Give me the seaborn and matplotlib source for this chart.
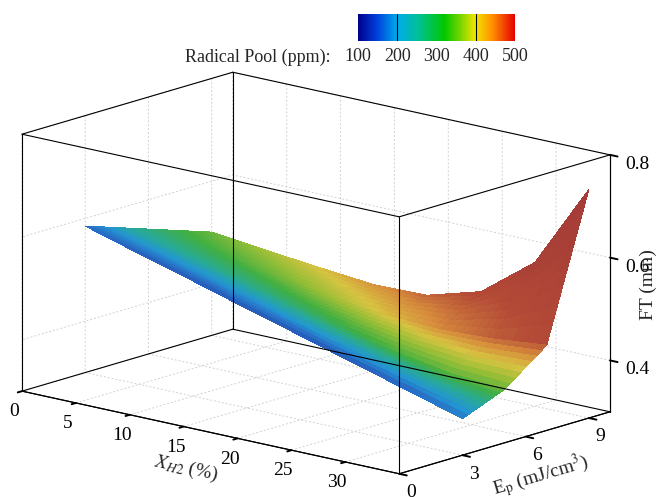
import itertools
import numpy as np
import matplotlib
matplotlib.use("Agg")
import matplotlib.pyplot as plt
import seaborn as sns
from matplotlib.colors import LinearSegmentedColormap, Normalize
from matplotlib.cm import ScalarMappable
from mpl_toolkits.mplot3d import proj3d

# grid of the surface: hydrogen fraction (%) and plasma energy (mJ/cm3)
x_h2 = [0, 5, 10, 15, 20, 25, 30, 35]
e_p = [3, 5, 7, 9]

# flame thickness FT (mm), one row per E_p value
ft = [
    [0.585, 0.554, 0.524, 0.493, 0.463, 0.432, 0.402, 0.371],
    [0.557, 0.530, 0.503, 0.477, 0.452, 0.430, 0.412, 0.404],
    [0.529, 0.507, 0.486, 0.468, 0.455, 0.450, 0.455, 0.466],
    [0.501, 0.489, 0.478, 0.468, 0.470, 0.500, 0.580, 0.745],
]

# radical pool (ppm) on the same grid, used for the colour
radical_pool = [
    [165, 155, 150, 150, 150, 155, 165, 185],
    [245, 250, 260, 275, 295, 315, 330, 335],
    [290, 310, 335, 365, 400, 435, 460, 475],
    [330, 365, 400, 430, 460, 480, 495, 505],
]

x_ticks = [0, 5, 10, 15, 20, 25, 30]
ep_ticks = [0, 3, 6, 9]
ft_ticks = [0.4, 0.6, 0.8]
rp_ticks = [100, 200, 300, 400, 500]
rp_lines = [200, 400]

x_lim = (0, 35)
ep_lim = (0, 10)
ft_lim = (0.3, 0.8)
rp_lim = (100, 500)

W, H = 659, 497


def refine(a, n=8):
    # bilinear subdivision of every grid cell, only for smooth colouring
    a = np.asarray(a, float)
    rows, cols = a.shape
    c = np.linspace(0, cols - 1, (cols - 1) * n + 1)
    r = np.linspace(0, rows - 1, (rows - 1) * n + 1)
    tmp = np.array([np.interp(c, np.arange(cols), row) for row in a])
    return np.array([np.interp(r, np.arange(rows), col) for col in tmp.T]).T


# bright map for the colour bar
rainbow = LinearSegmentedColormap.from_list("pool", [
    (0.00, (0.00, 0.00, 0.55)),
    (0.12, (0.00, 0.25, 0.86)),
    (0.25, (0.00, 0.67, 0.92)),
    (0.38, (0.00, 0.75, 0.60)),
    (0.55, (0.00, 0.78, 0.00)),
    (0.66, (0.50, 0.84, 0.00)),
    (0.75, (0.95, 0.90, 0.00)),
    (0.86, (1.00, 0.55, 0.00)),
    (1.00, (0.90, 0.00, 0.00)),
])
# the same map as it looks on the lit surface
rainbow_lit = LinearSegmentedColormap.from_list("pool_lit", [
    (0.000, "#193296"),
    (0.150, "#2869c3"),
    (0.250, "#2396d2"),
    (0.375, "#28aa96"),
    (0.500, "#41af41"),
    (0.625, "#96be37"),
    (0.725, "#d7c341"),
    (0.825, "#d78c3c"),
    (0.925, "#b44b37"),
    (1.000, "#a53c37"),
])
norm = Normalize(*rp_lim)

sns.set_theme(style="white")
plt.rcParams["font.family"] = ["Liberation Serif", "DejaVu Serif"]
plt.rcParams["mathtext.fontset"] = "stix"
plt.rcParams["grid.color"] = "#d2d2d2"
plt.rcParams["grid.linewidth"] = 0.7
plt.rcParams["grid.linestyle"] = (0, (2, 2))

fig = plt.figure(figsize=(W / 100, H / 100), dpi=100)
ax = fig.add_axes([-0.2, -0.2, 1.4, 1.4], projection="3d", computed_zorder=False)
ax.set_proj_type("ortho")
ax.view_init(elev=14.7, azim=-49.2)
aspect = (499, 323, 266)

ax.set_xlim(*x_lim)
ax.set_ylim(*ep_lim)
ax.set_zlim(*ft_lim)

xx, yy = np.meshgrid(x_h2, e_p)
xf, yf, zf, rf = refine(xx), refine(yy), refine(ft), refine(radical_pool)
ax.plot_surface(xf, yf, zf, facecolors=rainbow_lit(norm(rf)), rstride=1, cstride=1,
                linewidth=0, antialiased=False, shade=False, zorder=1)

# the full bounding box, drawn over the surface
corners = np.array(list(itertools.product(x_lim, ep_lim, ft_lim)), float)
for a, b in itertools.combinations(corners, 2):
    if np.count_nonzero(a != b) == 1:
        ax.plot(*zip(a, b), color="black", lw=0.8, zorder=3)

for axis in (ax.xaxis, ax.yaxis, ax.zaxis):
    axis.set_pane_color((1, 1, 1, 0))
    axis.pane.set_edgecolor((1, 1, 1, 0))
    axis.line.set_color("black")
    axis.line.set_linewidth(0.8)
    axis._axinfo["tick"]["inward_factor"] = 0.25
    axis._axinfo["tick"]["outward_factor"] = 0.0
    axis._axinfo["tick"]["linewidth"] = {True: 1.4, False: 0.6}
ax.grid(True)

ax.set_xticks(x_ticks)
ax.set_yticks(ep_ticks)
ax.set_zticks(ft_ticks)
ax.tick_params(axis="both", labelsize=14, colors="black")
ax.zaxis.set_ticks_position("upper")
ax.zaxis.set_label_position("upper")
ax.xaxis.set_tick_params(pad=2)
ax.yaxis.set_tick_params(pad=0)
ax.zaxis.set_tick_params(pad=4)
ax.set_xlabel(r"$X_{H2}$ (%)", fontsize=14, labelpad=9)
ax.set_ylabel(r"E$_\mathrm{p}$ (mJ/cm$^3$)", fontsize=14, labelpad=4)
ax.set_zlabel("FT (mm)", fontsize=14, labelpad=-4)


def box_extent():
    fig.canvas.draw()
    px, py, _ = proj3d.proj_transform(corners[:, 0], corners[:, 1], corners[:, 2], ax.get_proj())
    pts = ax.transData.transform(np.column_stack([px, py]))
    return pts[:, 0].min(), pts[:, 0].max(), pts[:, 1].min(), pts[:, 1].max()


# place the box where it sits in the reference (pixels, origin bottom left)
left, right, bottom, top = 22, 610, H - 475, H - 71
zoom = 1.0
ax.set_box_aspect(aspect, zoom=zoom)
l, r, b, t = box_extent()
zoom *= (right - left) / (r - l)
ax.set_box_aspect(aspect, zoom=zoom)
l, r, b, t = box_extent()
pos = ax.get_position(original=True)
ax.set_position([pos.x0 + ((left + right) - (l + r)) / 2 / W,
                 pos.y0 + ((bottom + top) - (b + t)) / 2 / H,
                 pos.width, pos.height])

# colour bar at the top
cax = fig.add_axes([358 / W, 1 - 41 / H, 157 / W, 27 / H])
cb = fig.colorbar(ScalarMappable(norm=norm, cmap=rainbow), cax=cax,
                  orientation="horizontal", ticks=rp_ticks)
cb.outline.set_visible(False)
cax.tick_params(length=0, labelsize=13, pad=5)
for v in rp_lines:
    cax.axvline(v, color="black", lw=0.8)
fig.text(331 / W, 1 - 57 / H, "Radical Pool (ppm):", fontsize=13,
         ha="right", va="center")

fig.savefig("out.png", dpi=100, facecolor="white")
